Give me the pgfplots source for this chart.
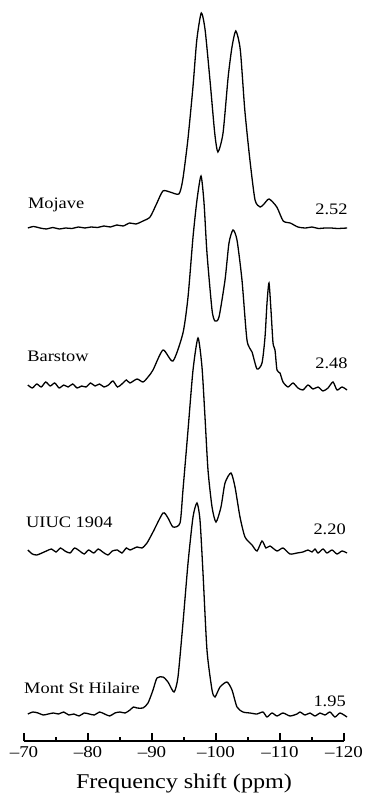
\documentclass[border=0pt]{standalone}
\usepackage{fontspec}
\setmainfont{Liberation Serif}[FakeStretch=1.15]
\usepackage{pgfplots}
\pgfplotsset{compat=1.18}
\begin{document}
\fontsize{16}{18}\selectfont
\begin{tikzpicture}
\begin{axis}[
  scale only axis, width=320pt, height=741pt,
  xmin=-120, xmax=-70, x dir=reverse,
  ymin=63, ymax=804,
  axis x line*=bottom, axis y line=none,
  axis line style={-, line width=1.2pt},
  xtick={-120,-110,-100,-90,-80,-70},
  xticklabels={--120,--110,--100,--90,--80,--70},
  minor x tick num=1,
  tick align=inside,
  major tick length=8pt, minor tick length=4pt,
  tick style={line width=1.2pt, black},
  xticklabel style={font=\fontsize{16.5}{18}\selectfont},
  xlabel={Frequency shift (ppm)},
  xlabel style={font=\fontsize{21}{23}\selectfont, at={(axis cs:-95,16)}, anchor=base},
  clip=false,
  cycle list={black\\},
  no marks,
  every axis plot/.append style={line width=1.3pt, smooth, tension=0.4},
]
% Mojave
\addplot coordinates {
(-70.6,576) (-71.5,577.5) (-72.5,576) (-73.5,575) (-74.5,576.5) (-75.5,575) (-76.5,576)
(-77.5,575.5) (-78.5,577) (-79.5,576) (-80.5,577) (-81.5,576.5) (-82.5,578) (-83.5,577)
(-84.5,579) (-85.5,578) (-86.5,581) (-87.5,580) (-88.6,583) (-89.7,587) (-90.7,600)
(-91.7,613) (-92.8,612) (-94.2,610) (-94.8,624) (-95.6,664) (-96.4,717) (-97.0,764)
(-97.7,791) (-98.3,774) (-99.1,721) (-99.8,671) (-100.3,652) (-101.1,671) (-101.9,727)
(-102.5,757) (-103.1,773) (-103.8,754) (-104.5,694) (-105.3,644) (-106.1,604) (-106.9,597)
(-107.5,600) (-108.3,605) (-109.5,597) (-110.5,583) (-111.6,581) (-112.8,577) (-114,576)
(-115,577) (-116,575.5) (-117,576) (-118,576) (-119,575.5) (-120.5,576)
};
% Barstow
\addplot coordinates {
(-70.6,419) (-71.3,416) (-72.0,420) (-72.7,417) (-73.4,422) (-74.1,418) (-74.8,421)
(-75.5,416) (-76.2,419) (-76.9,417) (-77.6,420) (-78.3,416) (-79.0,418) (-79.7,417)
(-80.4,421) (-81.1,418) (-81.8,420) (-82.5,417) (-83.2,419) (-83.9,423) (-84.6,417)
(-85.3,420) (-86.0,424) (-86.56,421) (-87.66,425) (-88.59,422) (-89.38,427) (-90.16,434)
(-91.72,454) (-93.28,443) (-94.84,471) (-95.63,507) (-96.41,567) (-97.03,604) (-97.66,628)
(-98.13,601) (-98.59,551) (-99.38,494) (-99.84,483) (-100.47,487) (-101.41,524) (-102.03,561)
(-102.66,574) (-103.28,564) (-104.06,524) (-104.84,464) (-105.63,452) (-106.41,435)
(-107.19,441) (-107.66,467) (-107.97,501) (-108.28,521) (-108.59,494) (-108.91,461)
(-109.22,454) (-109.53,434) (-110.0,431) (-110.47,422) (-111.25,417) (-112.03,421)
(-112.81,416) (-113.59,414) (-114.38,419) (-115.16,415) (-115.94,417) (-116.72,413)
(-117.5,416) (-118.28,422) (-118.91,414) (-119.69,417) (-120.47,414)
};
% UIUC 1904
\addplot coordinates {
(-70.6,254) (-71.3,250) (-72.0,249) (-72.8,251) (-73.5,253) (-74.3,255) (-75.0,252)
(-75.7,256) (-76.4,253) (-77.2,251) (-77.9,256) (-78.7,253) (-79.4,250) (-80.1,254)
(-80.9,251) (-81.6,255) (-82.3,252) (-83.1,249) (-83.8,253) (-84.6,254) (-85.3,251)
(-86.0,256) (-86.56,254) (-87.66,257) (-88.44,256) (-89.22,261) (-90.16,272) (-91.72,291)
(-92.5,286) (-93.28,277) (-94.38,281) (-94.84,314) (-95.63,374) (-96.41,434) (-97.19,466)
(-97.81,437) (-98.28,387) (-98.75,334) (-99.38,297) (-100.0,282) (-100.78,297) (-101.41,321)
(-102.34,331) (-102.97,317) (-103.75,287) (-104.53,267) (-105.63,259) (-106.41,253)
(-107.19,263) (-107.81,256) (-108.44,258) (-109.53,253) (-110.47,256) (-111.56,250)
(-112.66,251) (-113.59,252) (-114.38,254) (-115.0,252) (-115.47,255) (-115.94,251)
(-116.72,255) (-117.34,251) (-118.13,254) (-118.91,250) (-119.69,253) (-120.47,251)
};
% Mont St Hilaire
\addplot coordinates {
(-70.6,90) (-71.4,92) (-72.2,91) (-73.0,89) (-73.8,90) (-74.6,91) (-75.4,90) (-76.2,92)
(-77.0,89) (-77.8,90) (-78.6,88) (-79.4,91) (-80.2,90) (-81.0,89) (-81.8,92) (-82.6,90)
(-83.4,88) (-84.2,91) (-85.0,92) (-85.8,91) (-86.56,94) (-87.1,97) (-87.66,96) (-88.59,96)
(-89.38,101) (-90.16,114) (-90.78,126) (-91.72,127) (-92.5,122) (-93.44,112) (-94.06,127)
(-94.84,181) (-95.63,241) (-96.41,287) (-97.03,301) (-97.5,284) (-97.97,231) (-98.59,154)
(-99.38,114) (-99.84,107) (-100.63,117) (-101.72,122) (-102.5,114) (-103.28,97)
(-104.22,92) (-105.31,91) (-106.41,90) (-107.34,92) (-107.97,87) (-108.75,91) (-109.53,88)
(-110.47,91) (-111.56,88) (-112.66,90) (-113.13,92) (-113.91,89) (-114.69,91) (-115.47,88)
(-116.25,91) (-117.03,89) (-117.81,92) (-118.59,87) (-119.38,91) (-120.47,87)
};
% labels
\node[anchor=base west, inner sep=0pt] at (axis cs:-70.6,595) {Mojave};
\node[anchor=base east, inner sep=0pt] at (axis cs:-120.6,589) {2.52};
\node[anchor=base west, inner sep=0pt] at (axis cs:-70.5,442) {Barstow};
\node[anchor=base east, inner sep=0pt] at (axis cs:-120.6,435) {2.48};
\node[anchor=base west, inner sep=0pt] at (axis cs:-70.3,276) {UIUC 1904};
\node[anchor=base east, inner sep=0pt] at (axis cs:-120.3,269) {2.20};
\node[anchor=base west, inner sep=0pt] at (axis cs:-70.0,111) {Mont St Hilaire};
\node[anchor=base east, inner sep=0pt] at (axis cs:-120.3,98) {1.95};
% page frame
\path[draw=none] (axis cs:-66.25,0) rectangle (axis cs:-123.28,804);
\end{axis}
\end{tikzpicture}
\end{document}
